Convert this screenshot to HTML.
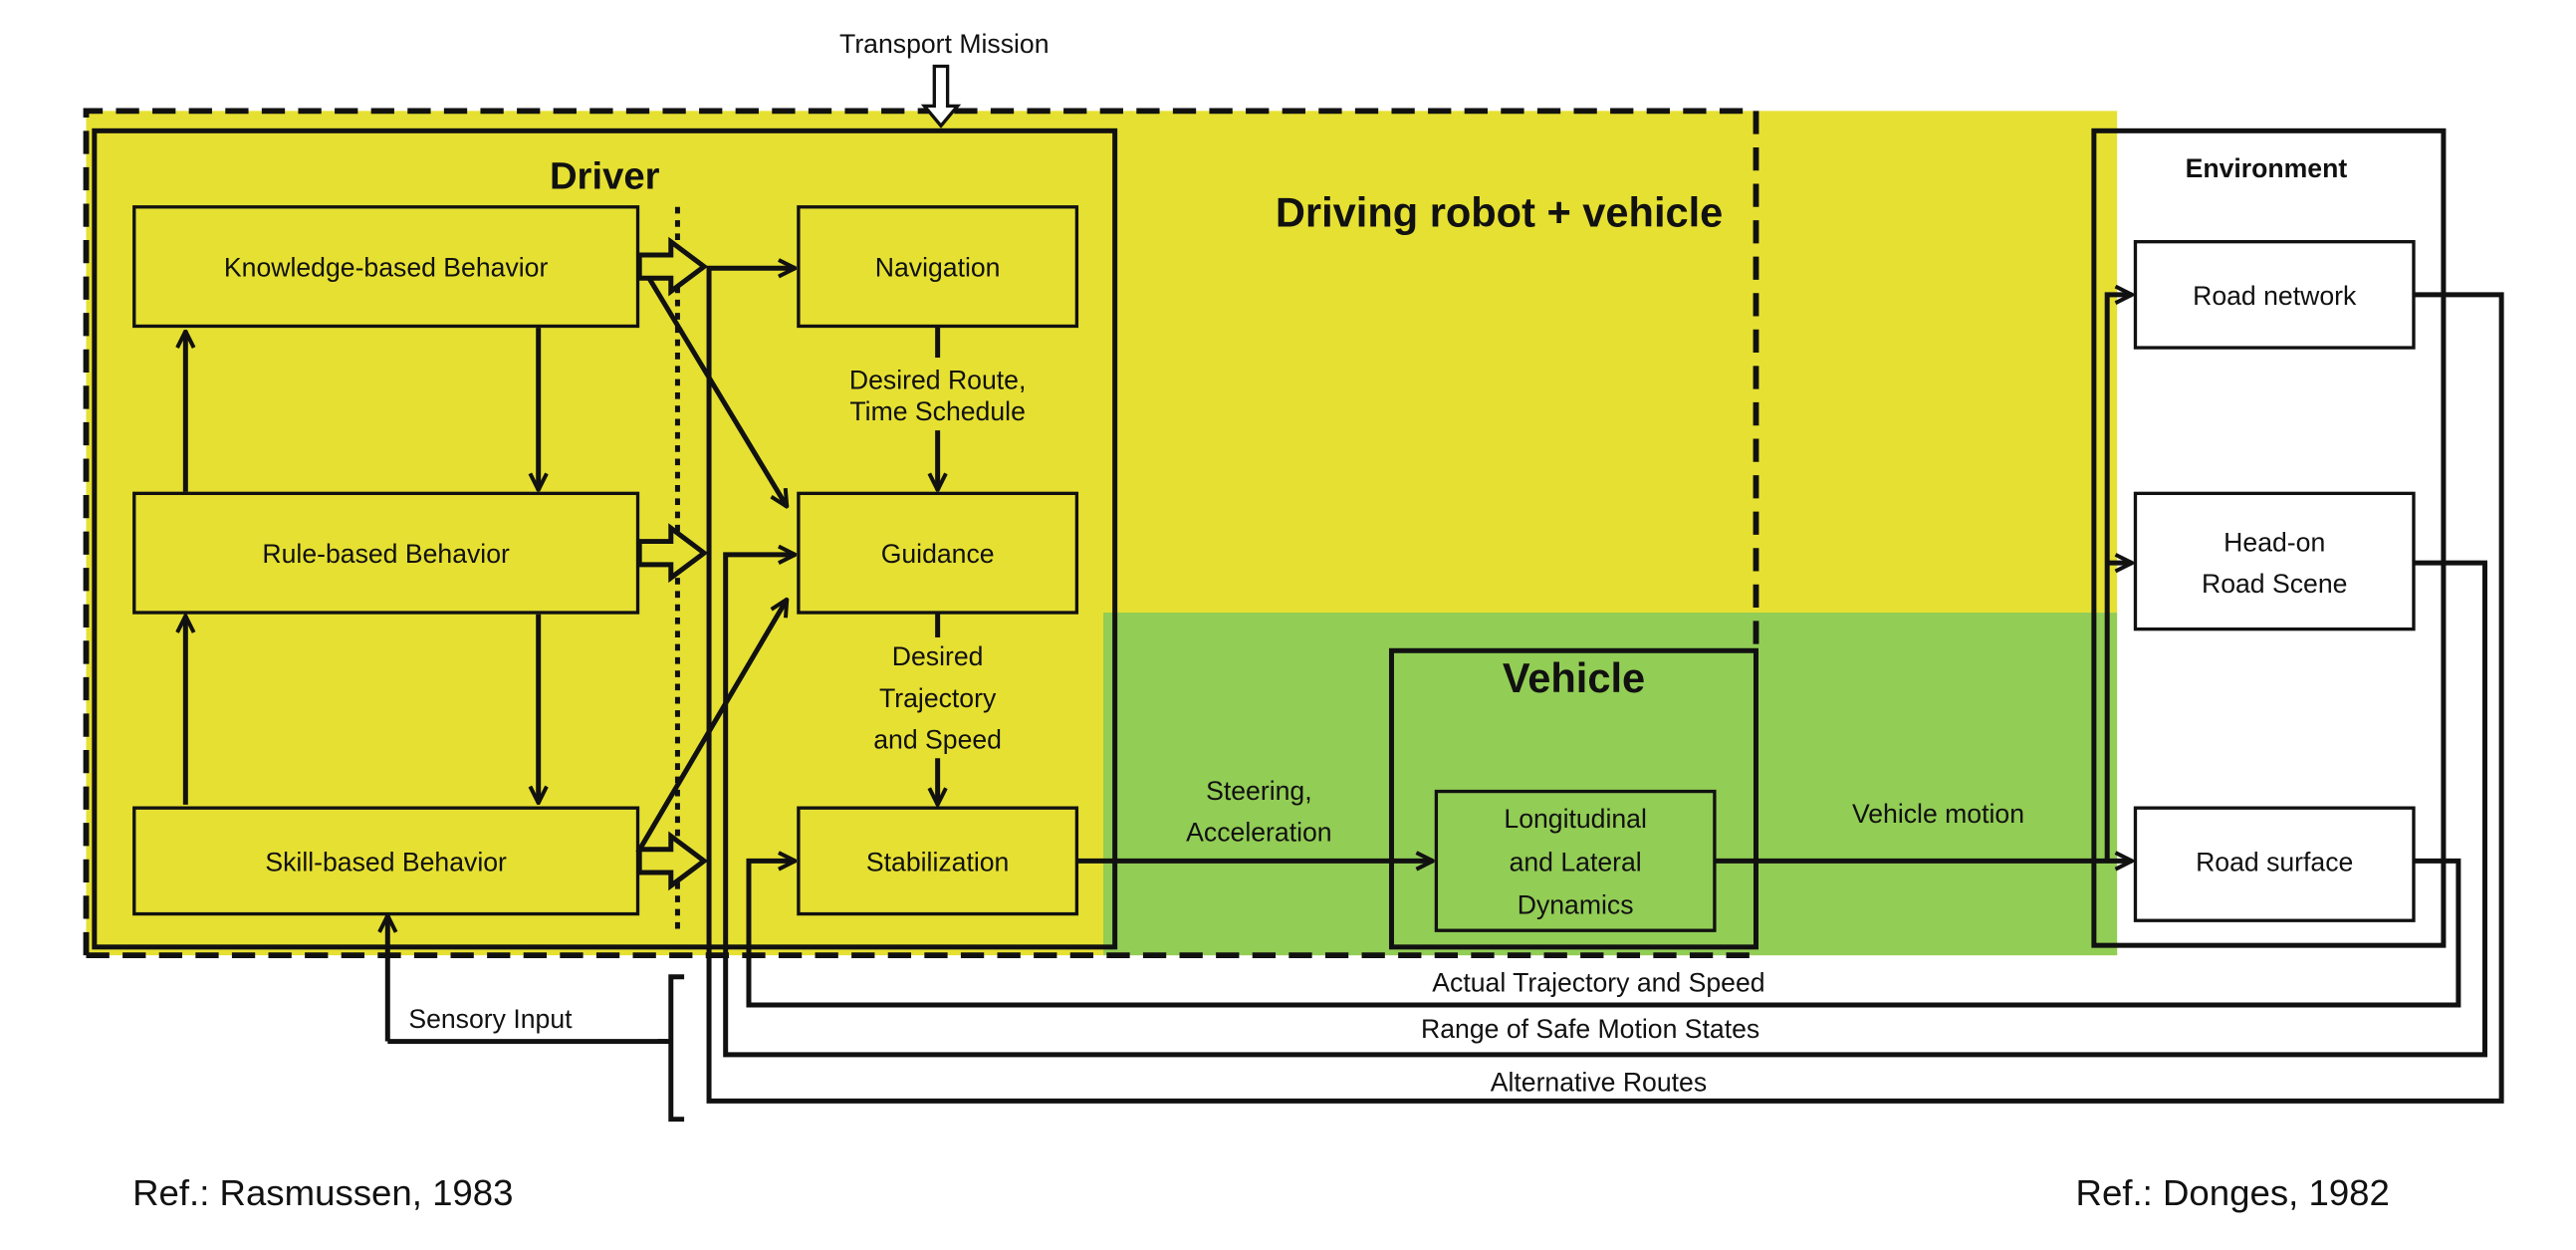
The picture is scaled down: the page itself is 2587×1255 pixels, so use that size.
<!DOCTYPE html>
<html><head><meta charset="utf-8"><style>
html,body{margin:0;padding:0;background:#fff;}
svg{display:block;}
text{font-family:"Liberation Sans",sans-serif;fill:#111;}
</style></head><body>
<svg width="2587" height="1255" viewBox="0 0 1555 755" preserveAspectRatio="none" xmlns="http://www.w3.org/2000/svg">
<defs>
<marker id="a" viewBox="0 0 12 12" refX="11" refY="6" markerWidth="12" markerHeight="12" markerUnits="userSpaceOnUse" orient="auto">
<path d="M1,1 L11,6 L1,11" fill="none" stroke="#111" stroke-width="2.4"/>
</marker>
</defs>
<rect x="52" y="67" width="1226" height="510" fill="#e6e032"/>
<rect x="666" y="370" width="612" height="207" fill="#92cd55"/>
<rect x="1264" y="79" width="211" height="492" fill="#fff"/>
<rect x="1264" y="370" width="14" height="201" fill="#92cd55"/>
<rect x="1264" y="79" width="14" height="291" fill="#e6e032"/>
<path d="M52,577 V67 H1060 V393" fill="none" stroke="#111" stroke-width="3.5" stroke-dasharray="14,8"/>
<path d="M52,577 H1060" fill="none" stroke="#111" stroke-width="3.5" stroke-dasharray="14,8"/>
<rect x="57" y="79" width="616" height="493" fill="none" stroke="#111" stroke-width="3"/>
<text x="365" y="114" font-size="23" font-weight="bold" text-anchor="middle">Driver</text>
<text x="905" y="137" font-size="25" font-weight="bold" text-anchor="middle">Driving robot + vehicle</text>
<text x="570" y="32" font-size="16" text-anchor="middle">Transport Mission</text>
<path d="M564,40 H572 V64 H578 L568,76 L558,64 H564 Z" fill="#fff" stroke="#111" stroke-width="2"/>
<g fill="none" stroke="#111" stroke-width="2">
<rect x="81" y="125" width="304" height="72"/>
<rect x="81" y="298" width="304" height="72"/>
<rect x="81" y="488" width="304" height="64"/>
<rect x="482" y="125" width="168" height="72"/>
<rect x="482" y="298" width="168" height="72"/>
<rect x="482" y="488" width="168" height="64"/>
<rect x="867" y="478" width="168" height="84"/>
</g>
<rect x="840" y="393" width="220" height="179" fill="none" stroke="#111" stroke-width="3"/>
<rect x="1264" y="79" width="211" height="492" fill="none" stroke="#111" stroke-width="3"/>
<g fill="#fff" stroke="#111" stroke-width="2">
<rect x="1289" y="146" width="168" height="64"/>
<rect x="1289" y="298" width="168" height="82"/>
<rect x="1289" y="488" width="168" height="68"/>
</g>
<g font-size="16" text-anchor="middle">
<text x="233" y="167">Knowledge-based Behavior</text>
<text x="233" y="340">Rule-based Behavior</text>
<text x="233" y="526">Skill-based Behavior</text>
<text x="566" y="167">Navigation</text>
<text x="566" y="340">Guidance</text>
<text x="566" y="526">Stabilization</text>
<text x="951" y="500">Longitudinal</text>
<text x="951" y="526">and Lateral</text>
<text x="951" y="552">Dynamics</text>
<text x="1373" y="184">Road network</text>
<text x="1373" y="333">Head-on</text>
<text x="1373" y="358">Road Scene</text>
<text x="1373" y="526">Road surface</text>
<text x="566" y="235">Desired Route,</text>
<text x="566" y="254">Time Schedule</text>
<text x="566" y="402">Desired</text>
<text x="566" y="427">Trajectory</text>
<text x="566" y="452">and Speed</text>
<text x="760" y="483">Steering,</text>
<text x="760" y="508">Acceleration</text>
<text x="1170" y="497">Vehicle motion</text>
<text x="965" y="599">Actual Trajectory and Speed</text>
<text x="960" y="627">Range of Safe Motion States</text>
<text x="965" y="659">Alternative Routes</text>
<text x="296" y="621">Sensory Input</text>
</g>
<text x="950" y="418" font-size="25" font-weight="bold" text-anchor="middle">Vehicle</text>
<text x="1368" y="107" font-size="16" font-weight="bold" text-anchor="middle">Environment</text>
<text x="80" y="728" font-size="22">Ref.: Rasmussen, 1983</text>
<text x="1253" y="728" font-size="22">Ref.: Donges, 1982</text>
<line x1="409" y1="125" x2="409" y2="565" stroke="#111" stroke-width="3" stroke-dasharray="4,4"/>
<g fill="none" stroke="#111" stroke-width="3" marker-end="url(#a)">
<line x1="325" y1="198" x2="325" y2="296"/>
<line x1="325" y1="371" x2="325" y2="485"/>
<line x1="112" y1="297" x2="112" y2="200"/>
<line x1="112" y1="486" x2="112" y2="372"/>
<line x1="390" y1="165" x2="475" y2="306"/>
<line x1="385" y1="515" x2="475" y2="362"/>
<polyline points="1457,178 1510,178 1510,665 428,665 428,162 480,162"/>
<polyline points="1457,340 1500,340 1500,637 438,637 438,335 480,335"/>
<polyline points="1457,520 1484,520 1484,607 452,607 452,520 480,520"/>
<line x1="566" y1="260" x2="566" y2="296"/>
<line x1="566" y1="458" x2="566" y2="486"/>
<line x1="650" y1="520" x2="865" y2="520"/>
<line x1="1035" y1="520" x2="1287" y2="520"/>
<polyline points="1272,520 1272,178 1287,178"/>
<line x1="1272" y1="340" x2="1287" y2="340"/>
<polyline points="234,629 234,553"/>
</g>
<g fill="none" stroke="#111" stroke-width="3">
<line x1="566" y1="197" x2="566" y2="216"/>
<line x1="566" y1="370" x2="566" y2="385"/>
<polyline points="234,629 403,629"/>
<path d="M413,590 H405 V676 H413 M397,629 H405"/>
</g>
<g stroke="#111" stroke-width="3">
<path d="M386,154 H405 V146 L425,161 L405,176 V168 H386 Z" fill="#e6e032"/>
<path d="M386,327 H405 V319 L425,334 L405,349 V341 H386 Z" fill="#e6e032"/>
<path d="M386,513 H405 V505 L425,520 L405,535 V527 H386 Z" fill="#e6e032"/>
</g>
</svg>
</body></html>
